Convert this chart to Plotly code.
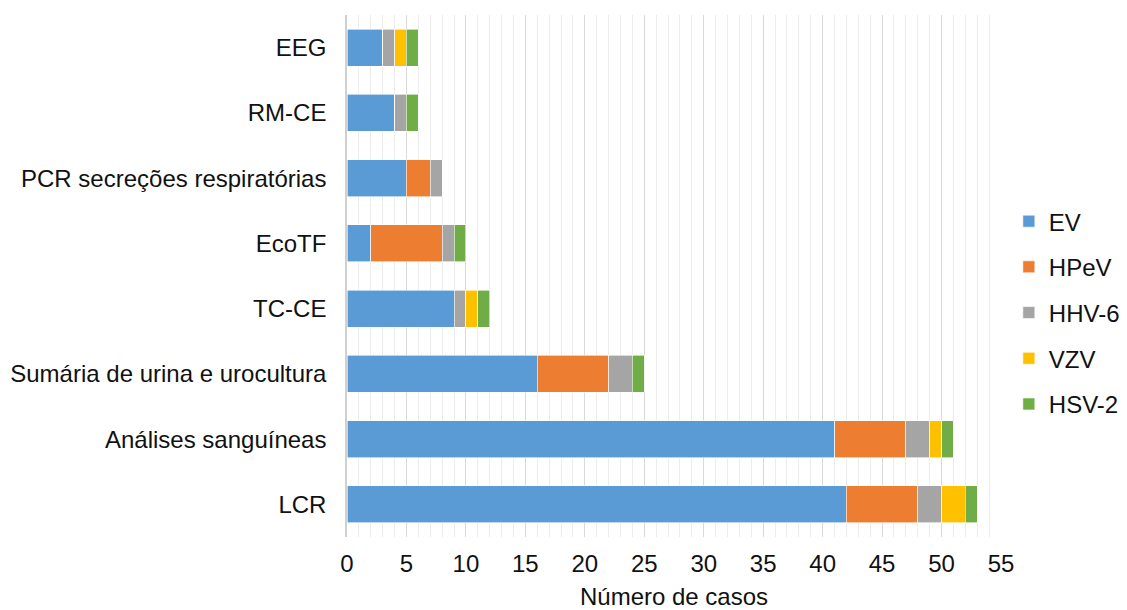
import plotly.graph_objects as go

categories = ["LCR", "Análises sanguíneas", "Sumária de urina e urocultura", "TC-CE",
              "EcoTF", "PCR secreções respiratórias", "RM-CE", "EEG"]
ev = [42, 41, 16, 9, 2, 5, 4, 3]
hpev = [6, 6, 6, 0, 6, 2, 0, 0]
hhv6 = [2, 2, 2, 1, 1, 1, 1, 1]
vzv = [2, 1, 0, 1, 0, 0, 0, 1]
hsv2 = [1, 1, 1, 1, 1, 0, 1, 1]

series = [("EV", ev, "#5B9BD5"), ("HPeV", hpev, "#ED7D31"), ("HHV-6", hhv6, "#A5A5A5"),
          ("VZV", vzv, "#FFC000"), ("HSV-2", hsv2, "#70AD47")]

fig = go.Figure()
for name, vals, color in series:
    fig.add_trace(go.Bar(
        y=categories, x=vals, name=name, orientation="h",
        marker=dict(color=color, line=dict(color="white", width=0.6)),
        legendgroup=name,
    ))

family = "Liberation Sans, Arial, sans-serif"
fig.update_layout(
    barmode="stack",
    bargap=0.43,
    width=1127, height=610,
    margin=dict(l=347, r=126, t=15, b=73, autoexpand=False),
    plot_bgcolor="white", paper_bgcolor="white",
    font=dict(family=family, size=24, color="#111111"),
    showlegend=True,
    legend=dict(x=1.012, y=0.43, yanchor="middle", xanchor="left",
                font=dict(family=family, size=24, color="#111111"),
                tracegroupgap=11.5, itemwidth=30, traceorder="grouped"),
    xaxis=dict(range=[0, 55], dtick=5, showgrid=True, gridcolor="#d9d9d9", gridwidth=1.3,
               minor=dict(dtick=1, showgrid=True, gridcolor="#ececec", gridwidth=1),
               zeroline=False, showline=False, ticks="",
               tickfont=dict(size=24, color="#111111"), ticklabelstandoff=10,
               title=dict(text="Número de casos", font=dict(size=24, color="#111111"), standoff=13)),
    yaxis=dict(showline=True, linecolor="#d0d0d0", linewidth=1.5, ticks="",
               tickfont=dict(size=24, color="#111111"), ticklabelstandoff=14,
               categoryorder="array", categoryarray=categories),
)
fig.write_html("out.html")
